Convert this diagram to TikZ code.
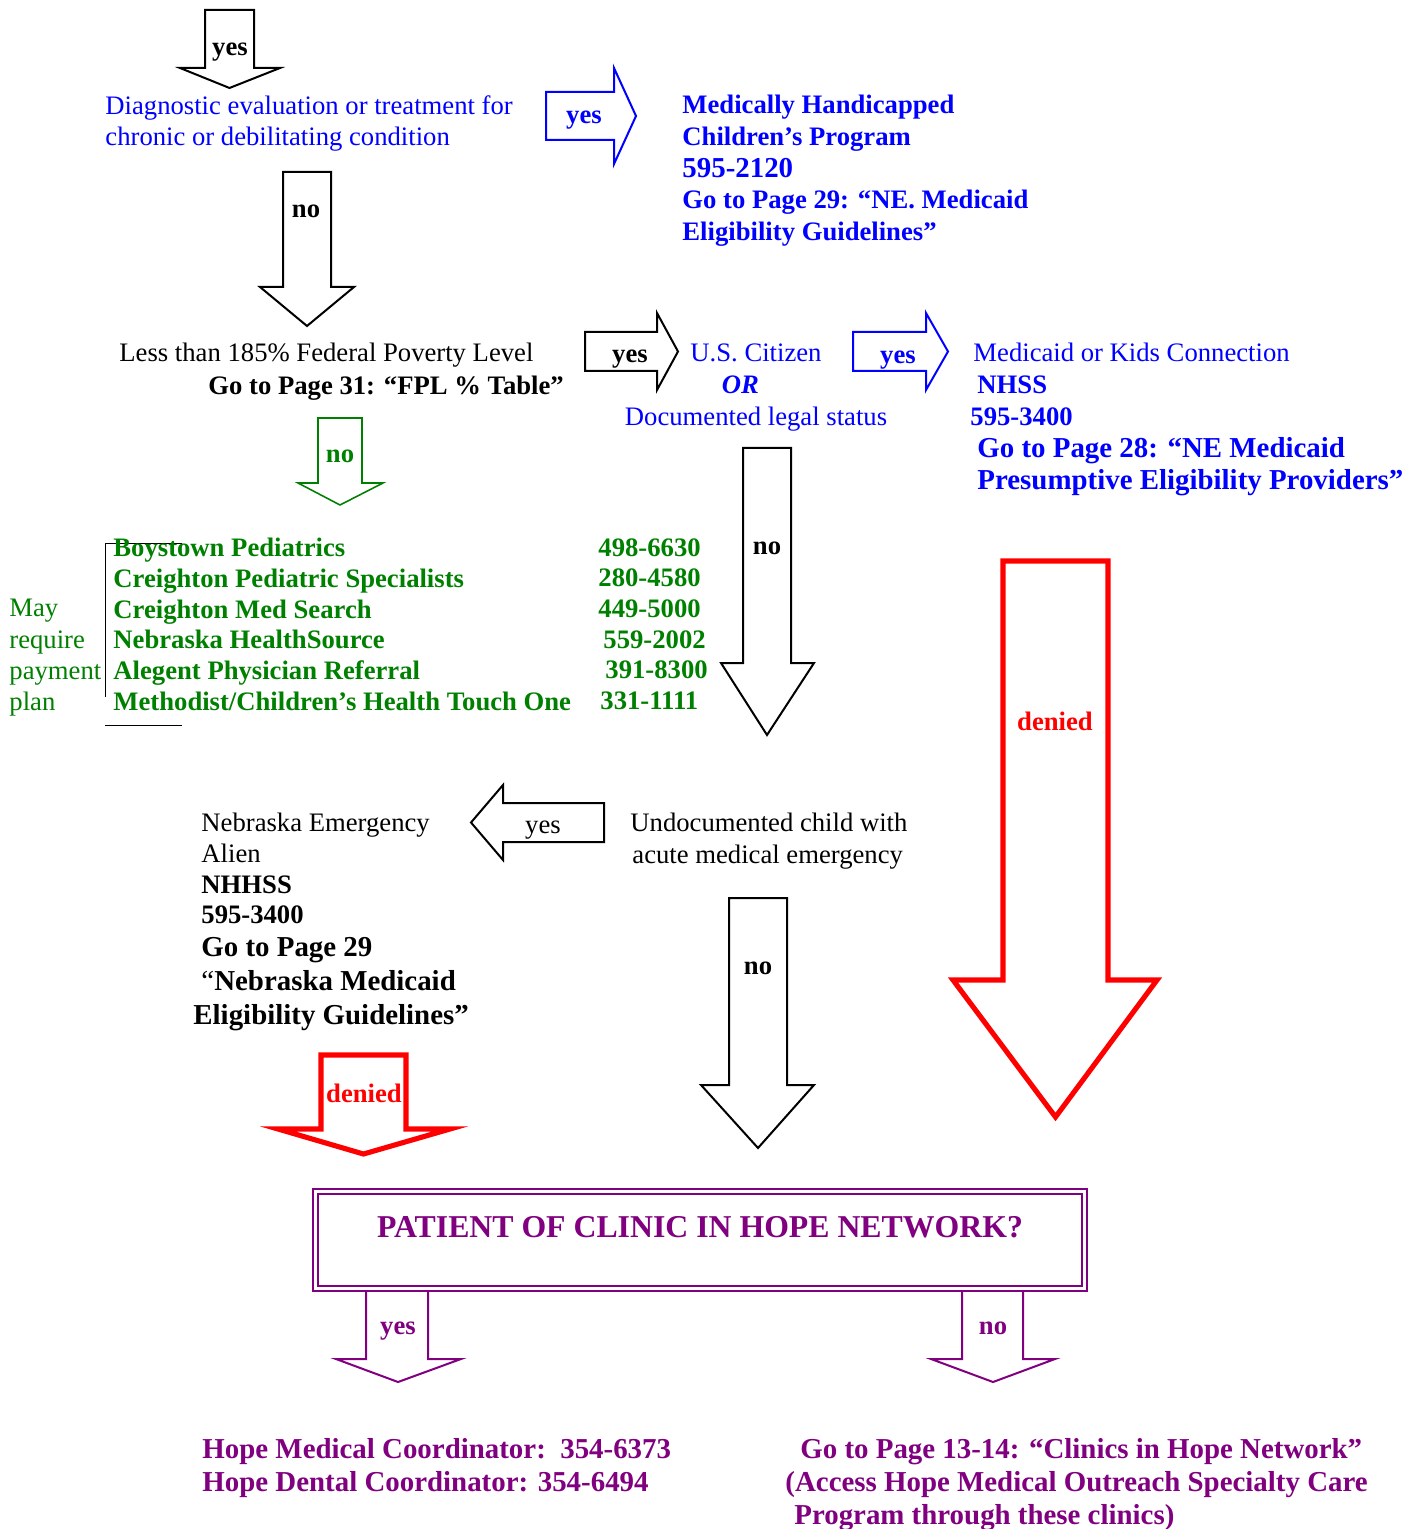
\documentclass[tikz,border=0pt]{standalone}
\usepackage{fontspec}
\setmainfont{Liberation Serif}

\definecolor{hopeblue}{RGB}{0,0,255}
\definecolor{hopegreen}{RGB}{0,128,0}
\definecolor{hopepurple}{RGB}{128,0,128}
\definecolor{hopered}{RGB}{255,0,0}

% block arrow pointing down: style, shaft left, shaft right, top, neck, head left, head right, tip
\newcommand{\downblock}[8]{%
  \draw[#1] (#2,#4) -- (#2,#5) -- (#6,#5) -- ({(#2+#3)/2},#8) -- (#7,#5) -- (#3,#5) -- (#3,#4) -- cycle;}
% block arrow pointing sideways: style, tail, neck, tip, shaft top, shaft bottom, head top, head bottom
\newcommand{\sideblock}[8]{%
  \draw[#1] (#2,#5) -- (#3,#5) -- (#3,#7) -- (#4,{(#5+#6)/2}) -- (#3,#8) -- (#3,#6) -- (#2,#6) -- cycle;}

\tikzset{
  txt/.style={inner sep=0pt, align=left, anchor=north west, font=\fontsize{12}{14}\selectfont},
  lab/.style={inner sep=0pt, anchor=base, font=\bfseries\fontsize{12}{14}\selectfont},
  blkarrow/.style={draw=black, line width=0.9pt},
  bluearrow/.style={draw=hopeblue, line width=0.9pt},
  greenarrow/.style={draw=hopegreen, line width=0.7pt},
  redarrow/.style={draw=hopered, line width=2.3pt},
  purplearrow/.style={draw=hopepurple, line width=0.9pt}
}

\begin{document}
\begin{tikzpicture}[x=0.45pt,y=-0.45pt]
  \useasboundingbox (0,0) rectangle (1426,1529);

  % first question
  \downblock{blkarrow}{205}{254}{10}{68}{180}{280}{88}
  \node[lab] (yestop) at (230,56) {yes};
  \node[txt, text=hopeblue] (diagtext) at (105,95) {Diagnostic evaluation or treatment for\\chronic or debilitating condition};
  \sideblock{bluearrow}{546}{614}{636}{92}{140}{68}{164}
  \node[lab, text=hopeblue] (yesmhcp) at (584,124) {yes};
  \node[txt, text=hopeblue, font=\bfseries\fontsize{12}{14.2}\selectfont] (mhcptext) at (682,95)
    {Medically Handicapped\\Children’s Program\\{\fontsize{13}{14.2}\selectfont 595-2120}\\Go to Page 29: “NE. Medicaid\\Eligibility Guidelines”};
  \downblock{blkarrow}{283}{331}{172}{287}{260}{354}{326}
  \node[lab] (nodiag) at (306,218) {no};

  % poverty level
  \node[txt] (fpltext) at (119,343) {Less than 185\% Federal Poverty Level};
  \node[txt, font=\bfseries\fontsize{12}{14}\selectfont] (fplpage) at (208,376) {Go to Page 31: “FPL \% Table”};
  \sideblock{blkarrow}{585}{657}{678}{332}{371}{313}{390}
  \node[lab] (yesfpl) at (630,363) {yes};
  \node[inner sep=0pt, align=center, anchor=north, text=hopeblue, font=\fontsize{12}{14.4}\selectfont] (citizen) at (756,343)
    {U.S. Citizen\\\textbf{\textit{OR}}\rule{14pt}{0pt}\\Documented legal status};
  \sideblock{bluearrow}{853}{926}{948}{332}{371}{313}{390}
  \node[lab, text=hopeblue] (yescitizen) at (898,364) {yes};
  \node[txt, text=hopeblue, font=\fontsize{12}{14.4}\selectfont] (medicaid) at (970,343)
    {\hspace*{1.35pt}Medicaid or Kids Connection\\\hspace*{3.15pt}\textbf{NHSS}\\\textbf{595-3400}\\
     \hspace*{3.15pt}\textbf{\fontsize{13}{14.4}\selectfont Go to Page 28: “NE Medicaid}\\
     \hspace*{3.15pt}\textbf{\fontsize{13}{14.4}\selectfont Presumptive Eligibility Providers”}};

  % clinics
  \downblock{greenarrow}{318}{362}{418}{483}{298}{383}{505}
  \node[lab, text=hopegreen] (nofpl) at (340,463) {no};
  \draw (182,543) -- (105,543) -- (105,697);
  \draw (105,725) -- (182,725);
  \node[txt, text=hopegreen] (maypay) at (9,599) {May\\require\\payment\\plan};
  \node[txt, text=hopegreen, font=\bfseries\fontsize{12}{13.8}\selectfont] (clinicnames) at (113,538)
    {Boystown Pediatrics\\Creighton Pediatric Specialists\\Creighton Med Search\\Nebraska HealthSource\\Alegent Physician Referral\\Methodist/Children’s Health Touch One};
  \node[txt, text=hopegreen, font=\bfseries\fontsize{12}{13.8}\selectfont] (clinicphones) at (598,538)
    {498-6630\\280-4580\\449-5000\\\hspace*{2.25pt}559-2002\\\hspace*{3.15pt}391-8300\\\hspace*{0.9pt}331-1111};

  % undocumented
  \downblock{blkarrow}{743}{791}{448}{663}{721}{814}{735}
  \node[lab] (nocitizen) at (767,555) {no};
  \node[txt] (undoc) at (630,813) {Undocumented child with\\\hspace*{0.9pt}acute medical emergency};
  \sideblock{blkarrow}{604}{503}{471}{803}{842}{785}{860}
  \node[lab, font=\fontsize{12}{14}\selectfont] (yesundoc) at (543,833) {yes};
  \node[txt, font=\fontsize{12}{13.8}\selectfont] (emergalien) at (201,813)
    {Nebraska Emergency\\Alien\\\textbf{NHHSS}\\\textbf{595-3400}};
  \node[txt, font=\bfseries\fontsize{13}{15.3}\selectfont] (emergpage) at (193,936.5)
    {\hspace*{3.6pt}Go to Page 29\\\hspace*{3.6pt}{\mdseries “}Nebraska Medicaid\\Eligibility Guidelines”};
  \downblock{blkarrow}{729}{787}{898}{1085}{701}{814}{1148}
  \node[lab] (noundoc) at (758,974) {no};

  % denied arrows
  \downblock{redarrow}{1003}{1108}{561}{980}{953}{1157}{1117}
  \node[lab, text=hopered] (deniedmedicaid) at (1055,730) {denied};
  \downblock{redarrow}{321}{406}{1055}{1129}{278}{450}{1154}
  \node[lab, text=hopered] (deniedemerg) at (364,1102) {denied};

  % hope network
  \draw[purplearrow] (313,1189) rectangle (1087,1291);
  \draw[purplearrow] (318,1194) rectangle (1082,1286);
  \node[lab, anchor=center, text=hopepurple, font=\bfseries\fontsize{14.3}{16}\selectfont] (hopebox) at (700,1227) {PATIENT OF CLINIC IN HOPE NETWORK?};
  \draw[purplearrow] (366,1291) -- (366,1359) -- (336,1359) -- (398,1382) -- (461,1359) -- (428,1359) -- (428,1291);
  \node[lab, text=hopepurple] (yeshope) at (398,1334) {yes};
  \draw[purplearrow] (962,1291) -- (962,1359) -- (931,1359) -- (993,1382) -- (1055,1359) -- (1023,1359) -- (1023,1291);
  \node[lab, text=hopepurple] (nohope) at (993,1334) {no};
  \node[txt, text=hopepurple, font=\bfseries\fontsize{13}{14.85}\selectfont] (hopecoord) at (202,1437.5)
    {Hope Medical Coordinator:\ \ 354-6373\\Hope Dental Coordinator: 354-6494};
  \node[txt, text=hopepurple, font=\bfseries\fontsize{13}{14.85}\selectfont] (hopeclinics) at (785,1437.5)
    {\hspace*{6.75pt}Go to Page 13-14: “Clinics in Hope Network”\\(Access Hope Medical Outreach Specialty Care\\\hspace*{4pt}Program through these clinics)};
\end{tikzpicture}
\end{document}
